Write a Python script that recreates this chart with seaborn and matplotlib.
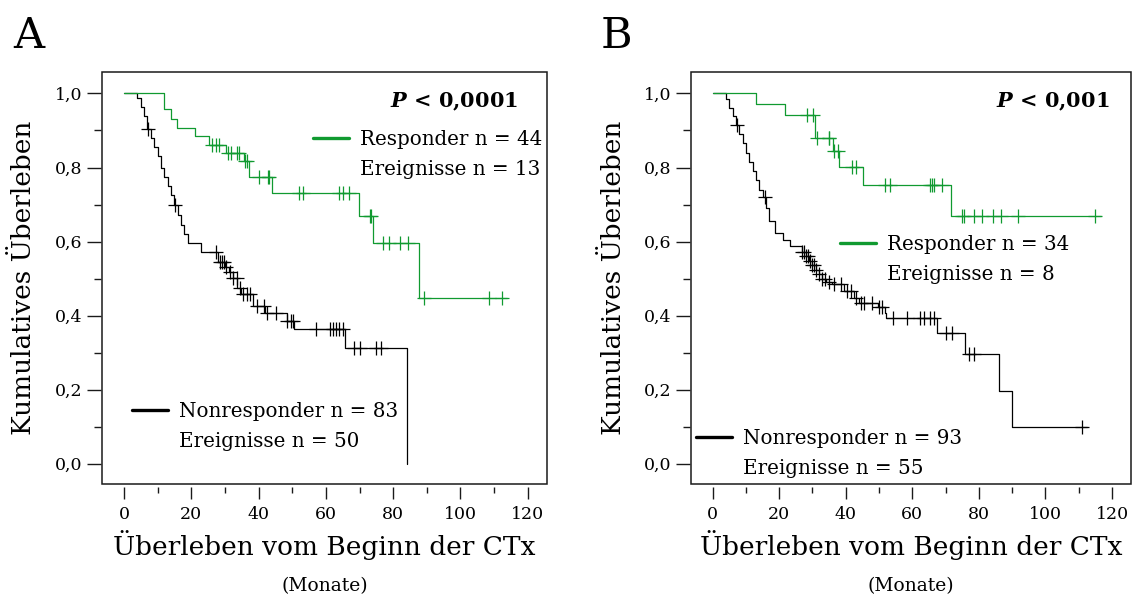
import numpy as np
import seaborn as sns
import matplotlib.pyplot as plt
from matplotlib.lines import Line2D
from matplotlib.patches import Rectangle
from matplotlib.ticker import MultipleLocator, FuncFormatter

# ---------------------------------------------------------
# Daten (Kaplan-Meier Stufen)
# ---------------------------------------------------------
# A - Nonresponder
a_non_t = [0, 4, 5, 6, 7, 8, 9, 10, 11, 12, 13, 14, 15, 16, 17, 18, 19, 23, 28,
           30, 31.3, 32.3, 33.7, 34.7, 38.3, 42, 48.5, 50.6, 65.7, 84]
a_non_s = [1.0, 0.988, 0.964, 0.94, 0.904, 0.88, 0.855, 0.83, 0.80, 0.775, 0.75,
           0.725, 0.70, 0.672, 0.645, 0.62, 0.597, 0.572, 0.545, 0.532, 0.518,
           0.502, 0.475, 0.457, 0.426, 0.408, 0.385, 0.365, 0.313, 0.0]
a_non_cens = [7.1, 15.2, 27.4, 28.5, 29.2, 29.8, 30.4, 31.5, 32.5, 33.5, 34.5,
              35.5, 36.5, 37.5, 39.5, 41.7, 42.5, 45.2, 48.6, 49.5, 50.3, 57.1,
              61.1, 62.0, 63.0, 64.0, 65.0, 68.5, 70.0, 75.0, 76.4]

# A - Responder
a_res_t = [0, 11.9, 13.9, 15.9, 21.1, 25.3, 30.3, 35.7, 37.2, 44.0, 69.8, 74.0,
           87.7, 113.9]
a_res_s = [1.0, 0.957, 0.932, 0.907, 0.884, 0.862, 0.839, 0.817, 0.774, 0.731,
           0.670, 0.595, 0.447, 0.447]
a_res_cens = [26.3, 27.3, 28.3, 30.8, 31.8, 33.7, 34.2, 35.9, 36.7, 40.2, 42.7,
              43.2, 52.1, 53.1, 64, 65, 67, 73, 73.5, 76.9, 78.7, 81.9, 84.4,
              89.3, 108.5, 112.2]

# B - Nonresponder
b_non_t = [0, 4, 5, 6, 7, 8, 9, 10, 11, 12, 13, 14, 15, 16, 17, 18.7, 21, 23.2,
           26.8, 28, 29, 30, 31, 32, 33, 34, 36, 39.5, 42.5, 44, 49.6, 51.7, 52.2,
           67.4, 75.8, 86, 89.8, 112.6]
b_non_s = [1.0, 0.985, 0.96, 0.94, 0.915, 0.89, 0.865, 0.84, 0.815, 0.79, 0.765,
           0.74, 0.72, 0.69, 0.655, 0.622, 0.605, 0.588, 0.572, 0.56, 0.548,
           0.536, 0.524, 0.512, 0.50, 0.492, 0.484, 0.466, 0.448, 0.435, 0.422,
           0.408, 0.394, 0.352, 0.295, 0.196, 0.098, 0.098]
b_non_cens = [7.2, 15.6, 27.0, 27.6, 28.2, 28.8, 29.4, 30.0, 30.6, 31.2, 32.0,
              33.0, 33.8, 35.0, 36.5, 38.5, 40.5, 41.5, 43.0, 44.5, 45.5, 48.0,
              50.0, 50.8, 54.2, 58.3, 62.4, 63.4, 65.4, 66.4, 70.0, 72.0, 77.0,
              78.6, 111.0]

# B - Responder
b_res_t = [0, 12.9, 21.7, 30.8, 36.1, 37.9, 45.3, 71.5, 116.7]
b_res_s = [1.0, 0.971, 0.942, 0.879, 0.844, 0.801, 0.754, 0.669, 0.669]
b_res_cens = [28.3, 30.1, 31.4, 34.9, 35.1, 36.5, 37.8, 41.8, 43.0, 51.7, 53.2,
              65.4, 65.9, 66.4, 68.9, 74.8, 75.5, 78.6, 80.9, 84.2, 86.7, 91.8,
              114.9]

p_text = [r'$\bfit{P}$ < 0,0001', r'$\bfit{P}$ < 0,001']
res_labels = [['Responder n = 44', 'Ereignisse n = 13'],
              ['Responder n = 34', 'Ereignisse n = 8']]
non_labels = [['Nonresponder n = 83', 'Ereignisse n = 50'],
              ['Nonresponder n = 93', 'Ereignisse n = 55']]
panel_names = ['A', 'B']

GREEN = '#109a30'
BLACK = '#000000'

# Stil
sns.set_theme(style='white')
plt.rcParams['font.family'] = ['DejaVu Serif']
plt.rcParams['mathtext.fontset'] = 'dejavuserif'
plt.rcParams['text.color'] = 'black'
plt.rcParams['axes.labelcolor'] = 'black'
plt.rcParams['xtick.color'] = 'black'
plt.rcParams['ytick.color'] = 'black'


def censor_y(t, s, cens):
    t = np.asarray(t)
    s = np.asarray(s)
    idx = np.searchsorted(t, cens, side='right') - 1
    return s[idx]


def draw_km(ax, t, s, cens, color):
    sns.lineplot(x=t, y=s, drawstyle='steps-post', color=color, lw=0.9,
                 estimator=None, sort=False, ax=ax)
    sns.scatterplot(x=cens, y=censor_y(t, s, cens), marker='+', s=95,
                    color=color, linewidth=0.9, ax=ax, zorder=3)


fig = plt.figure(figsize=(11.34, 5.96), dpi=100)
W, H = 1134, 596
boxes = [(102, 72, 547, 484), (691, 72, 1131, 484)]
letters_x = [13, 601]

data = [(a_non_t, a_non_s, a_non_cens, a_res_t, a_res_s, a_res_cens),
        (b_non_t, b_non_s, b_non_cens, b_res_t, b_res_s, b_res_cens)]
res_leg_pos = [(0.474, 0.860), (0.339, 0.605)]
non_leg_pos = [(0.068, 0.200), (0.012, 0.134)]
p_pos = [(0.935, 0.927), (0.952, 0.927)]

for i in range(2):
    x0, y0, x1, y1 = boxes[i]
    ax = fig.add_axes([x0 / W, 1 - y1 / H, (x1 - x0) / W, (y1 - y0) / H])
    nt, ns, nc, rt, rs, rc = data[i]
    draw_km(ax, nt, ns, nc, BLACK)
    draw_km(ax, rt, rs, rc, GREEN)

    ax.set_xlim(-6.5, 125.7)
    ax.set_ylim(-0.055, 1.058)

    # Rahmen + abgesetzte Achsen
    for sp in ax.spines.values():
        sp.set_visible(False)
    ax.spines['bottom'].set_position(('outward', 2.2))
    ax.spines['left'].set_position(('outward', 0.8))
    ax.add_patch(Rectangle((0, 0), 1, 1, transform=ax.transAxes, fill=False,
                           edgecolor='#1a1a1a', lw=1.1, clip_on=False, zorder=5))

    ax.xaxis.set_major_locator(MultipleLocator(20))
    ax.xaxis.set_minor_locator(MultipleLocator(10))
    ax.yaxis.set_major_locator(MultipleLocator(0.2))
    ax.yaxis.set_minor_locator(MultipleLocator(0.1))
    ax.yaxis.set_major_formatter(FuncFormatter(lambda v, p: f'{v:.1f}'.replace('.', ',')))
    ax.tick_params(axis='x', which='major', direction='out', length=8.5, width=1.0,
                   color='#1a1a1a', labelsize=12.5, pad=5, bottom=True)
    ax.tick_params(axis='x', which='minor', direction='out', length=4.3, width=1.0,
                   color='#1a1a1a', bottom=True)
    ax.tick_params(axis='y', which='major', direction='out', length=10, width=1.0,
                   color='#1a1a1a', labelsize=12.5, pad=3, left=True)
    ax.tick_params(axis='y', which='minor', direction='out', length=5, width=1.0,
                   color='#1a1a1a', left=True)

    ax.set_xlabel('Überleben vom Beginn der CTx', fontsize=19)
    ax.xaxis.set_label_coords(0.5, -0.112)
    ax.set_ylabel('Kumulatives Überleben', fontsize=19)
    ax.yaxis.set_label_coords(-0.148, 0.5)
    ax.text(0.5, -0.248, '(Monate)', transform=ax.transAxes, ha='center',
            va='center', fontsize=13.5)

    # P-Wert
    ax.text(p_pos[i][0], p_pos[i][1], p_text[i], transform=ax.transAxes,
            ha='right', va='center', fontsize=15, fontweight='bold')

    # Legenden
    h_res = [Line2D([], [], color=GREEN, lw=2.4), Line2D([], [], color='none')]
    leg1 = ax.legend(h_res, res_labels[i], loc='upper left',
                     bbox_to_anchor=res_leg_pos[i], frameon=False, fontsize=14.3,
                     handlelength=1.8, handletextpad=0.55, labelspacing=0.55,
                     borderpad=0, borderaxespad=0)
    ax.add_artist(leg1)
    h_non = [Line2D([], [], color=BLACK, lw=2.4), Line2D([], [], color='none')]
    ax.legend(h_non, non_labels[i], loc='upper left',
              bbox_to_anchor=non_leg_pos[i], frameon=False, fontsize=14.3,
              handlelength=1.8, handletextpad=0.55, labelspacing=0.55,
              borderpad=0, borderaxespad=0)

    fig.text(letters_x[i] / W, 1 - 36 / H, panel_names[i], fontsize=31,
             ha='left', va='center')

plt.savefig('out.png', dpi=100)
